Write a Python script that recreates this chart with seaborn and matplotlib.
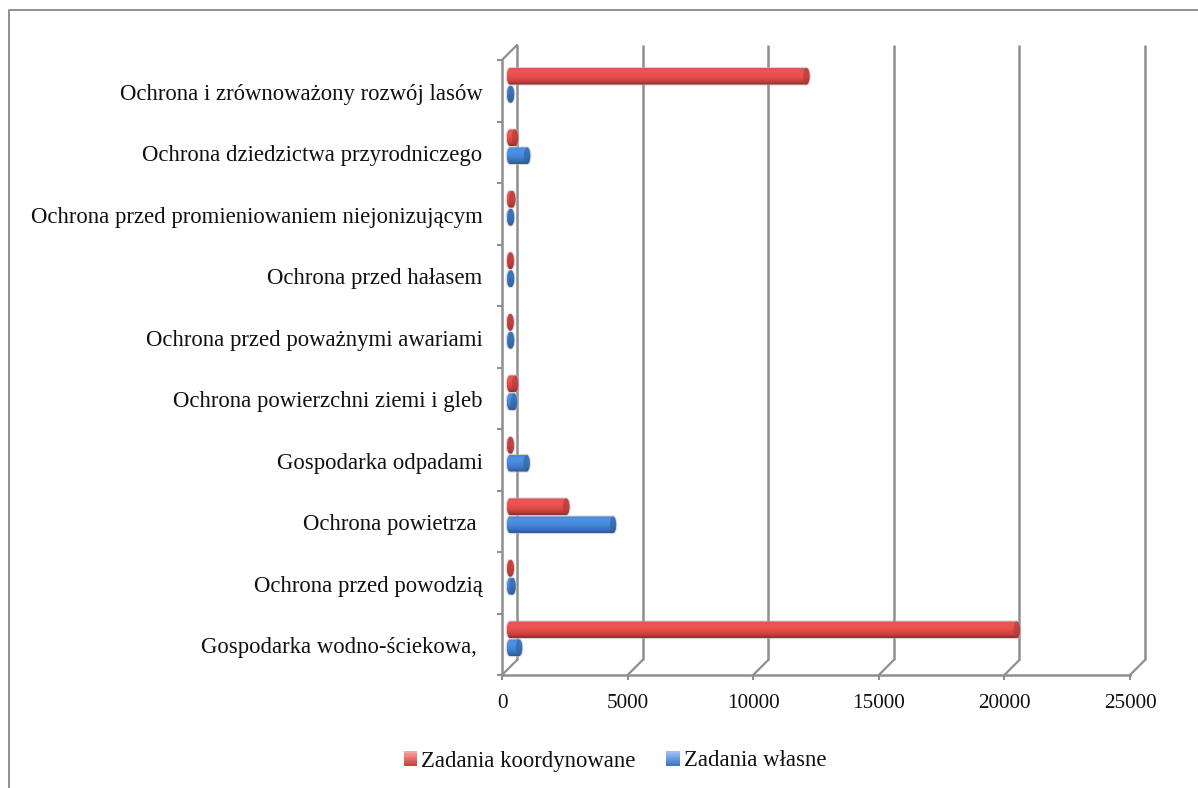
import numpy as np
import pandas as pd
import seaborn as sns
import matplotlib
matplotlib.use("Agg")
import matplotlib.pyplot as plt
import matplotlib.transforms as mtrans
from matplotlib.legend_handler import HandlerBase
from matplotlib.lines import Line2D
from matplotlib.patches import Polygon, Ellipse, Patch, Rectangle
from matplotlib.colors import LinearSegmentedColormap

categories = [
    "Ochrona i zrównoważony rozwój lasów",
    "Ochrona dziedzictwa przyrodniczego",
    "Ochrona przed promieniowaniem niejonizującym",
    "Ochrona przed hałasem",
    "Ochrona przed poważnymi awariami",
    "Ochrona powierzchni ziemi i gleb",
    "Gospodarka odpadami",
    "Ochrona powietrza ",
    "Ochrona przed powodzią",
    "Gospodarka wodno-ściekowa, ",
]
koordynowane = [11800, 200, 90, 30, 20, 200, 30, 2240, 30, 20180]
wlasne = [40, 680, 40, 40, 40, 160, 660, 4100, 100, 360]
series_names = ["Zadania koordynowane", "Zadania własne"]
x_ticks = [0, 5000, 10000, 15000, 20000, 25000]

W, H = 1198, 788
FS = 16.35
FS_X = 15.2
GRAY = "#8f8f8f"
sns.set_theme(style="white")
plt.rcParams["font.family"] = ["Liberation Serif", "DejaVu Serif"]

df = pd.DataFrame({
    "cat": categories * 2,
    "val": koordynowane + wlasne,
    "ser": [series_names[0]] * 10 + [series_names[1]] * 10,
})

fig = plt.figure(figsize=(W / 100, H / 100), dpi=100)


def rect(x0, y0, x1, y1):
    return [x0 / W, 1 - y1 / H, (x1 - x0) / W, (y1 - y0) / H]


# outer frame (open on the right and at the bottom)
fig.add_artist(Line2D([9 / W, 9 / W, 1], [0, 1 - 9.5 / H, 1 - 9.5 / H],
                      color=GRAY, lw=1.4, transform=fig.transFigure))

XL, XR, YT, YB = 502, 1130, 60, 675
DX, DY = 15, 15
SCALE = (XR - XL) / 25000

# back wall
back = fig.add_axes(rect(XL + DX, YT - DY, XR + DX, YB - DY))
back.set_xlim(0, 25000)
back.set_ylim(0, 1)
back.axis("off")
back.vlines(x_ticks, 0, 1, color=GRAY, lw=1.8, clip_on=False)

# front axis
ax = fig.add_axes(rect(XL, YT, XR, YB))
ax.patch.set_alpha(0)
ax.set_xlim(0, 25000)
ax.set_ylim(9.5, -0.5)
for s in ["top", "right"]:
    ax.spines[s].set_visible(False)
for s in ["left", "bottom"]:
    ax.spines[s].set_color(GRAY)
    ax.spines[s].set_linewidth(1.8)
ax.set_xticks(x_ticks)
ax.set_xticklabels([str(v) for v in x_ticks], fontsize=FS_X, color="#111111")
ax.set_yticks(np.arange(11) - 0.5)
ax.set_yticklabels([])
ax.set_yticks(np.arange(10), minor=True)
ax.set_yticklabels(categories, minor=True, fontsize=FS, color="#111111")
ax.tick_params(axis="both", which="major", length=3.8, width=1.5, color=GRAY,
               left=True, bottom=True)
ax.tick_params(axis="y", which="minor", length=0, pad=14)
ax.tick_params(axis="x", pad=10)
shift = mtrans.ScaledTranslation(0, -1 / 100, fig.dpi_scale_trans)
for lab in ax.get_yticklabels(minor=True):
    lab.set_transform(lab.get_transform() + shift)

# floor / wall diagonals
for v in x_ticks:
    px = XL + v * SCALE
    fig.add_artist(Line2D([px / W, (px + DX) / W],
                          [1 - YB / H, 1 - (YB - DY) / H],
                          color=GRAY, lw=1.6, transform=fig.transFigure))
fig.add_artist(Line2D([XL / W, (XL + DX) / W],
                      [1 - YT / H, 1 - (YT - DY) / H],
                      color=GRAY, lw=1.6, transform=fig.transFigure))

# bars
B0 = 510
PAD = 12
bars = fig.add_axes(rect(B0 - PAD, YT - 5.5, B0 + XR - XL, YB - 5.5))
bars.patch.set_alpha(0)
sns.barplot(data=df, y="cat", x="val", hue="ser", order=categories,
            hue_order=series_names, palette=["#e8504f", "#4a8ee0"],
            width=0.585, gap=0.08, legend=False, ax=bars, zorder=2)
bars.axis("off")

cm_red = LinearSegmentedColormap.from_list(
    "r", ["#dc5452", "#ec5654", "#ea5250", "#e04a48", "#c43f3d", "#8c2f2e"])
cm_blue = LinearSegmentedColormap.from_list(
    "b", ["#4a86d2", "#4e92e6", "#4a8ee2", "#4482d2", "#3a70b8", "#2c5a94"])
RX = 3.2 / SCALE
n_red = len(categories)
grad = np.linspace(0, 1, 64).reshape(-1, 1)
for i, p in enumerate(list(bars.patches)):
    x1 = p.get_x() + p.get_width()
    y0 = p.get_y()
    h = p.get_height()
    yc = y0 + h / 2
    cmap = cm_red if i < n_red else cm_blue
    dark = "#a83836" if i < n_red else "#2f6098"
    t = np.linspace(np.pi / 2, 3 * np.pi / 2, 30)
    left = np.c_[RX * np.cos(t), h / 2 * np.sin(t) + yc]
    right = np.c_[x1 - RX * np.cos(t), yc - h / 2 * np.sin(t)]
    shape = Polygon(np.r_[left, right], closed=True, fc="none",
                    ec="#b5b5b5", lw=1.6, alpha=0.5, zorder=3)
    bars.add_patch(shape)
    p.set_visible(False)
    im = bars.imshow(grad, cmap=cmap, aspect="auto", zorder=4,
                     extent=(-RX, x1 + RX, y0 + h, y0), interpolation="bilinear")
    clip = Polygon(np.r_[left, right], closed=True, transform=bars.transData)
    im.set_clip_path(clip)
    bars.add_patch(Ellipse((x1, yc), 2 * RX, h, fc=dark, ec="none", zorder=5, alpha=0.6))
bars.set_xlim(-PAD / SCALE, 25000)
bars.set_ylim(9.5, -0.5)


class GradientHandler(HandlerBase):
    def __init__(self, top, bottom):
        super().__init__()
        self.cmap = LinearSegmentedColormap.from_list("h", [top, bottom])

    def create_artists(self, legend, orig, xd, yd, width, height, fontsize, trans):
        n = 10
        arts = []
        for k in range(n):
            arts.append(Rectangle((-xd, -yd + height * (n - 1 - k) / n), width, height / n,
                                  fc=self.cmap(k / (n - 1)), ec="none", transform=trans))
        return arts


h_red, h_blue = Patch(), Patch()
fig.legend([h_red, h_blue], series_names, loc="center",
           bbox_to_anchor=(615 / W, 1 - 761 / H),
           ncol=2, frameon=False, fontsize=FS, handlelength=0.58, handleheight=0.58,
           handletextpad=0.17, columnspacing=1.37, labelcolor="#111111",
           handler_map={h_red: GradientHandler("#f9a3a1", "#d0403e"),
                        h_blue: GradientHandler("#9cc0f5", "#3f78c4")})

fig.savefig("out.png", dpi=100)
